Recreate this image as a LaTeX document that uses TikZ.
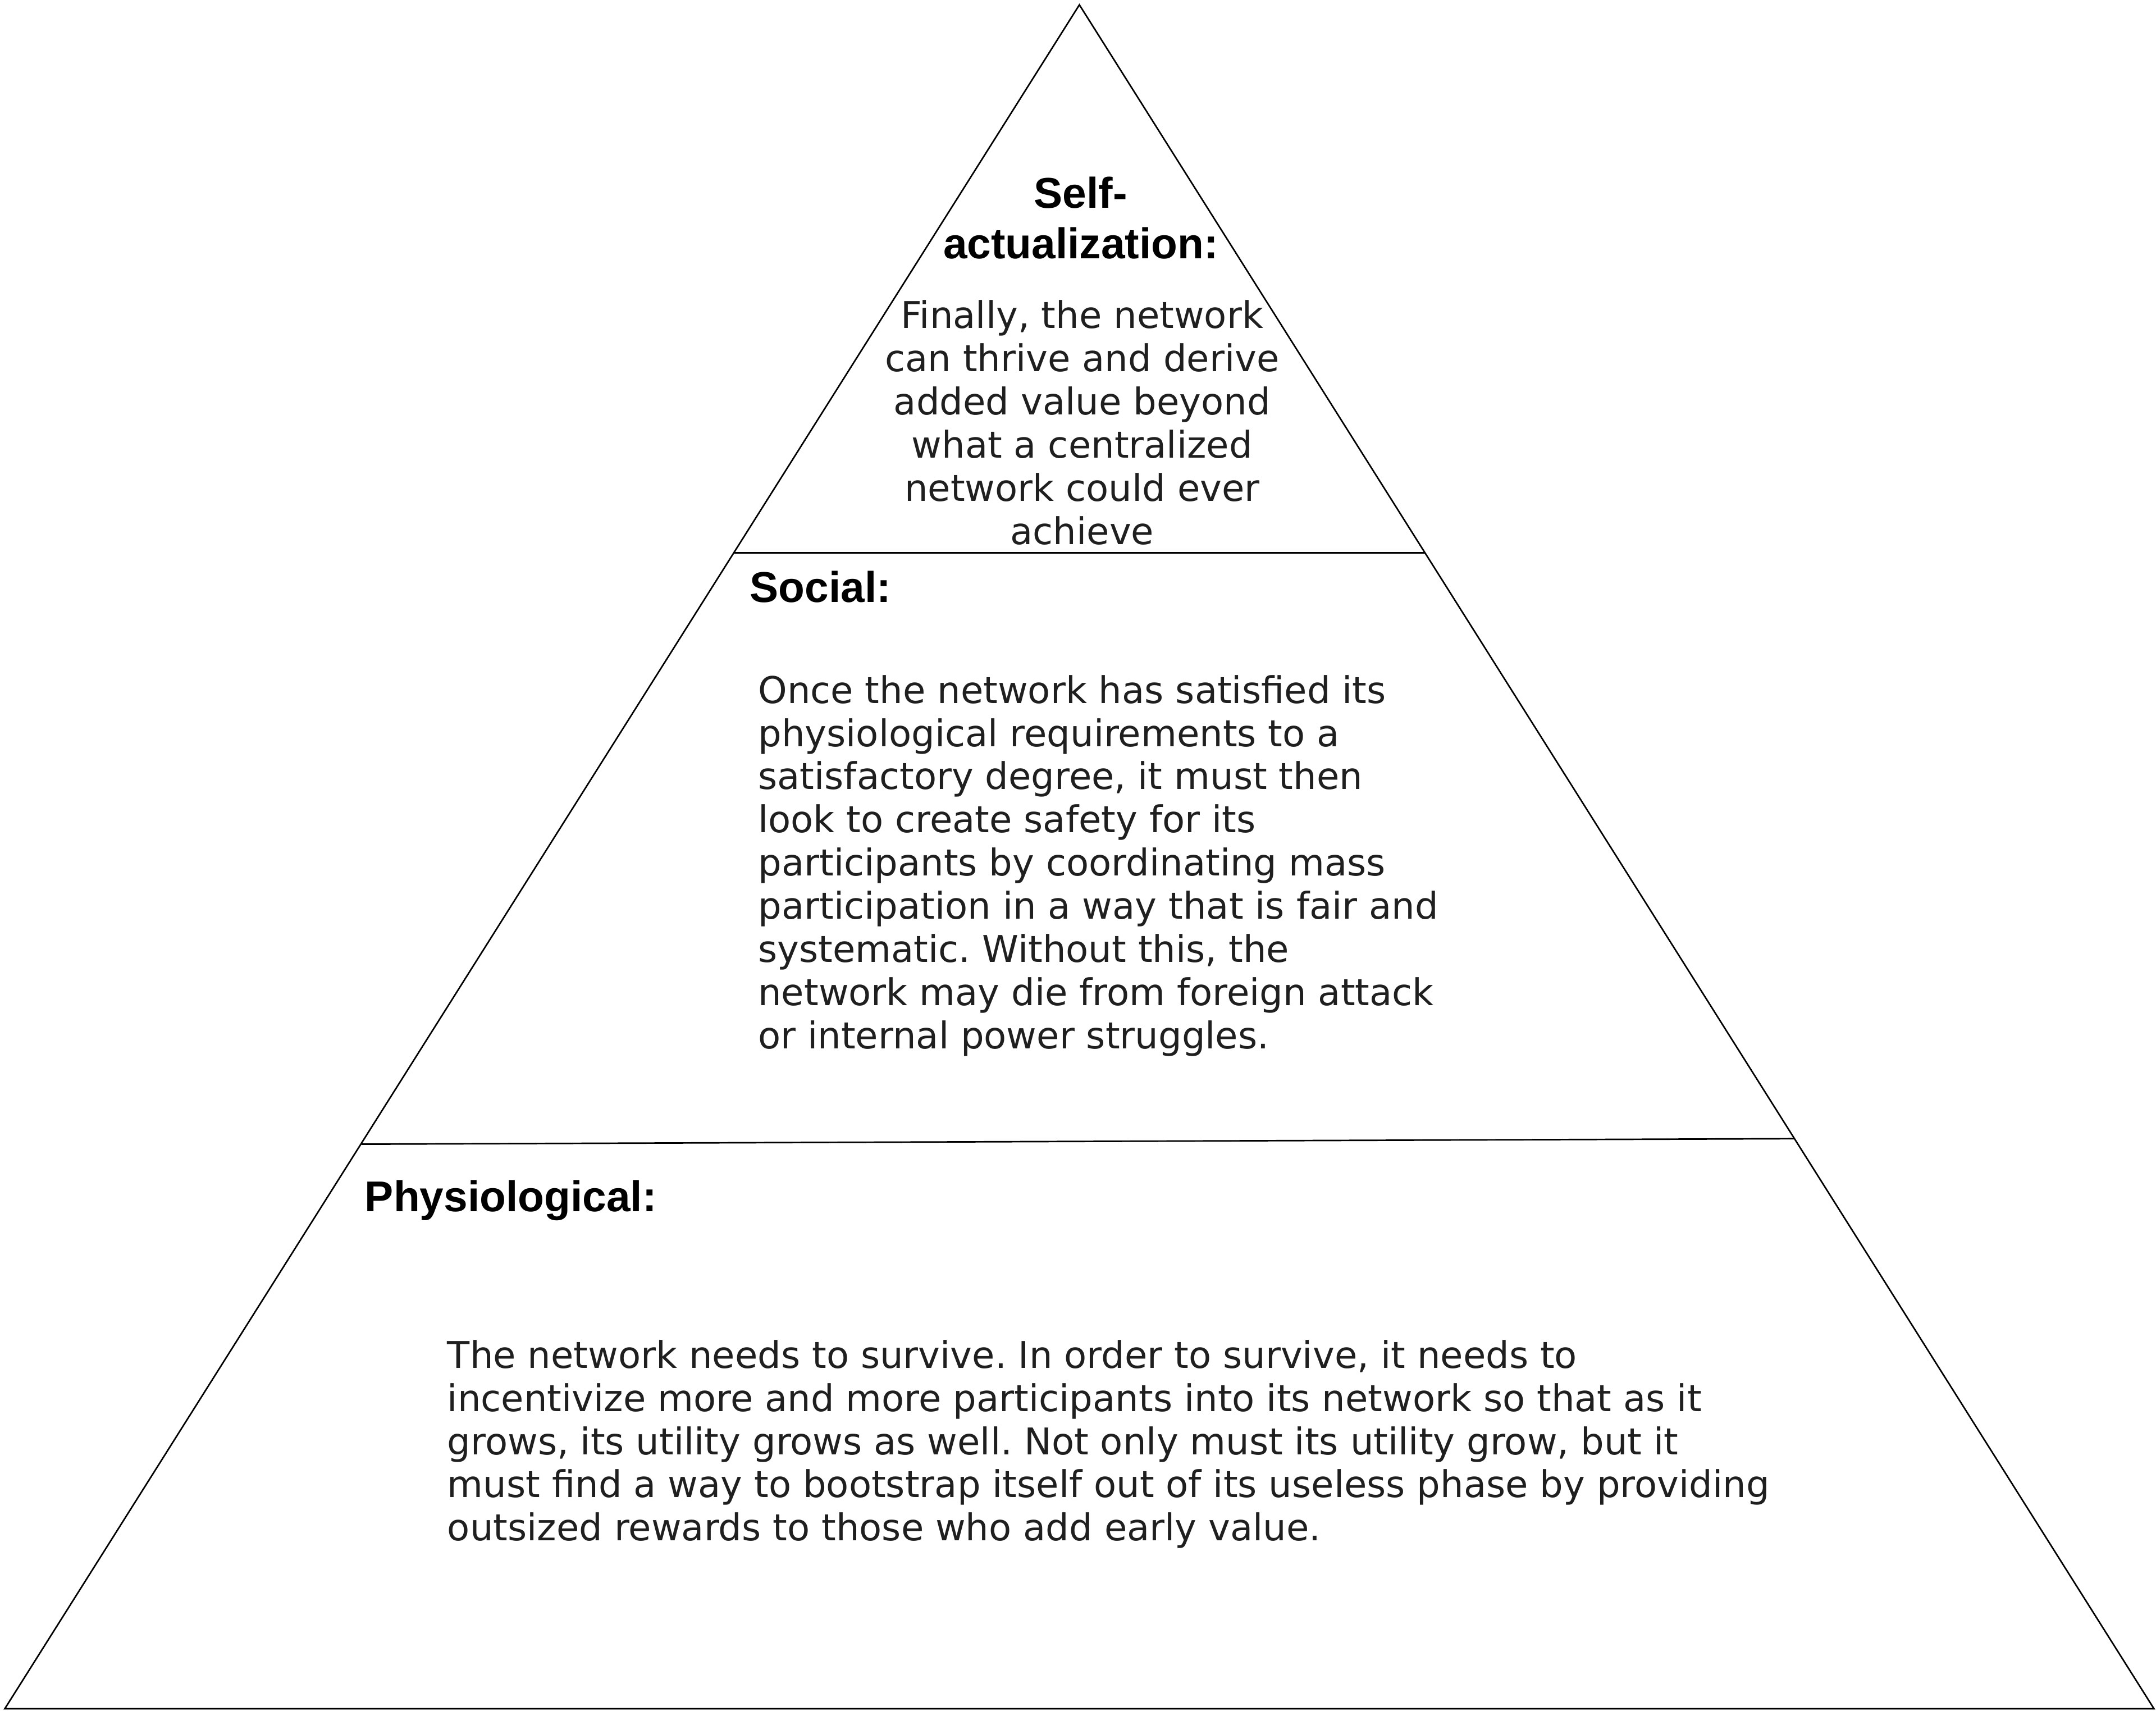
\documentclass[tikz,border=0pt]{standalone}
\usepackage{fontspec}
\newfontfamily\bodyfont{DejaVu Sans}
\newfontfamily\titlefont{Liberation Sans}
\frenchspacing
\begin{document}
\begin{tikzpicture}[x=0.5pt,y=-0.5pt,
  edge/.style={line width=0.55pt, black},
  title/.style={font=\titlefont\bfseries\fontsize{15.65pt}{18.5pt}\selectfont, inner sep=0pt},
  body/.style={font=\frenchspacing\bodyfont\fontsize{13.4pt}{15.7pt}\selectfont, text=black!88, inner sep=0pt}]
\useasboundingbox (0,0) rectangle (1568,1244);
\fill[white] (0,0) rectangle (1568,1244);
% triangle
\coordinate (apex) at (785,3.5);
\coordinate (bl) at (3.5,1242.5);
\coordinate (br) at (1566.5,1242.5);
\coordinate (d1l) at (534,402);
\coordinate (d1r) at (1036,402);
\coordinate (d2l) at (263,832);
\coordinate (d2r) at (1305,828);
\draw[edge, line join=miter] (apex) -- (br) -- (bl) -- cycle;
\draw[edge] (d1l) -- (d1r);
\draw[edge] (d2l) -- (d2r);
% texts
\node[title, align=center, anchor=north] (satitle) at (786,128) {Self-\\actualization:};
\node[body, align=center, anchor=north] (satext) at (787,218) {Finally, the network\\can thrive and derive\\added value beyond\\what a centralized\\network could ever\\achieve};
\node[title, anchor=north west] (sotitle) at (545,415) {Social:};
\node[body, align=left, anchor=north west] (sotext) at (551,490.5) {Once the network has satisfied its\\physiological requirements to a\\satisfactory degree, it must then\\look to create safety for its\\participants by coordinating mass\\participation in a way that is fair and\\systematic. Without this, the\\network may die from foreign attack\\or internal power struggles.};
\node[title, anchor=north west] (phtitle) at (265,858) {Physiological:};
\node[body, align=left, anchor=north west] (phtext) at (325,974) {The network needs to survive. In order to survive, it needs to\\incentivize more and more participants into its network so that as it\\grows, its utility grows as well. Not only must its utility grow, but it\\must find a way to bootstrap itself out of its useless phase by providing\\outsized rewards to those who add early value.};
\end{tikzpicture}
\end{document}
